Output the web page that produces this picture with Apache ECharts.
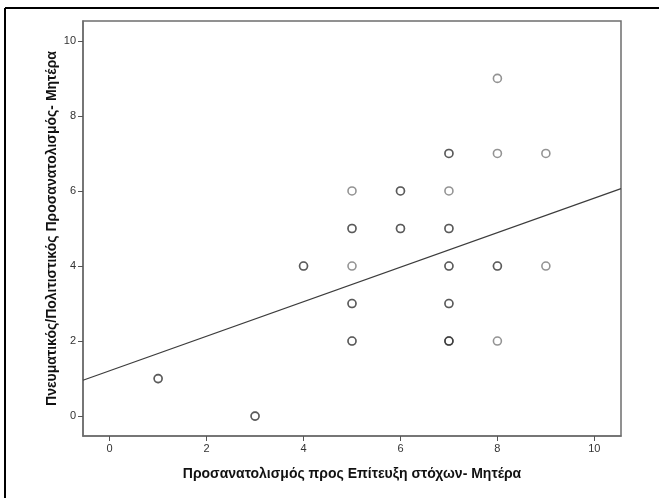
<!DOCTYPE html>
<html>
<head>
<meta charset="utf-8">
<script src="https://cdn.jsdelivr.net/npm/echarts@6/dist/echarts.min.js"></script>
<style>
html,body{margin:0;padding:0;background:#fff;}
#chart{width:659px;height:498px;}
</style>
</head>
<body>
<div id="chart"></div>
<script>
// Data
var xValues = [1, 3, 4, 5, 5, 5, 5, 5, 6, 6, 7, 7, 7, 7, 7, 7, 8, 8, 8, 8, 9, 9];
var yValues = [1, 0, 4, 6, 5, 4, 3, 2, 6, 5, 7, 6, 5, 4, 3, 2, 9, 7, 4, 2, 7, 4];
var counts  = [2, 2, 2, 1, 2, 1, 2, 2, 2, 2, 2, 1, 2, 2, 2, 3, 1, 1, 2, 1, 1, 1];
var tickValues = [0, 2, 4, 6, 8, 10];
var fitIntercept = 1.21;
var fitSlope = 0.46;
var X_MIN = -0.55, X_MAX = 10.55, Y_MIN = -0.53, Y_MAX = 10.53;

var xTitle = 'Προσανατολισμός προς Επίτευξη στόχων- Μητέρα';
var yTitle = 'Πνευματικός/Πολιτιστικός Προσανατολισμός- Μητέρα';

var pts = [];
for (var i = 0; i < xValues.length; i++) {
  for (var k = 0; k < counts[i]; k++) pts.push([xValues[i], yValues[i]]);
}
var fitLine = [[X_MIN, fitIntercept + fitSlope * X_MIN], [X_MAX, fitIntercept + fitSlope * X_MAX]];

var font = 'Liberation Sans, Arial, sans-serif';
var chart = echarts.init(document.getElementById('chart'), null, {renderer: 'canvas'});
chart.setOption({
  backgroundColor: '#fff',
  animation: false,
  grid: {left: 83, top: 21, right: 38, bottom: 62, show: true, borderColor: '#6e6e6e', borderWidth: 1.5, backgroundColor: '#fff'},
  xAxis: {
    type: 'value', min: X_MIN, max: X_MAX,
    name: xTitle, nameLocation: 'middle', nameGap: 31, nameMoveOverlap: false,
    nameTextStyle: {fontFamily: font, fontSize: 14, fontWeight: 'bold', color: '#111'},
    axisLine: {show: true, onZero: false, lineStyle: {color: '#6e6e6e', width: 1.5}},
    axisTick: {show: true, length: 5, lineStyle: {color: '#555'}, customValues: tickValues},
    axisLabel: {fontFamily: font, fontSize: 11, color: '#333', margin: 7, customValues: tickValues},
    splitLine: {show: false}
  },
  yAxis: {
    type: 'value', min: Y_MIN, max: Y_MAX,
    name: yTitle, nameLocation: 'middle', nameGap: 24, nameRotate: 90, nameMoveOverlap: false,
    nameTextStyle: {fontFamily: font, fontSize: 14, fontWeight: 'bold', color: '#111'},
    axisLine: {show: true, onZero: false, lineStyle: {color: '#6e6e6e', width: 1.5}},
    axisTick: {show: true, length: 5, lineStyle: {color: '#555'}, customValues: tickValues},
    axisLabel: {fontFamily: font, fontSize: 11, color: '#333', margin: 7, customValues: tickValues},
    splitLine: {show: false}
  },
  graphic: [
    {type: 'line', shape: {x1: 5, y1: 8, x2: 659, y2: 8}, style: {stroke: '#000', lineWidth: 2}, silent: true},
    {type: 'line', shape: {x1: 5, y1: 8, x2: 5, y2: 498}, style: {stroke: '#000', lineWidth: 2}, silent: true}
  ],
  series: [
    {
      type: 'line', data: fitLine, symbol: 'none', silent: true,
      lineStyle: {color: '#3c3c3c', width: 1.2}, z: 2
    },
    {
      type: 'scatter', data: pts, symbol: 'circle', symbolSize: 8, silent: true,
      itemStyle: {color: 'rgba(255,255,255,0)', borderColor: 'rgba(30,30,30,0.6)', borderWidth: 1.6},
      z: 3
    }
  ]
});
</script>
</body>
</html>
